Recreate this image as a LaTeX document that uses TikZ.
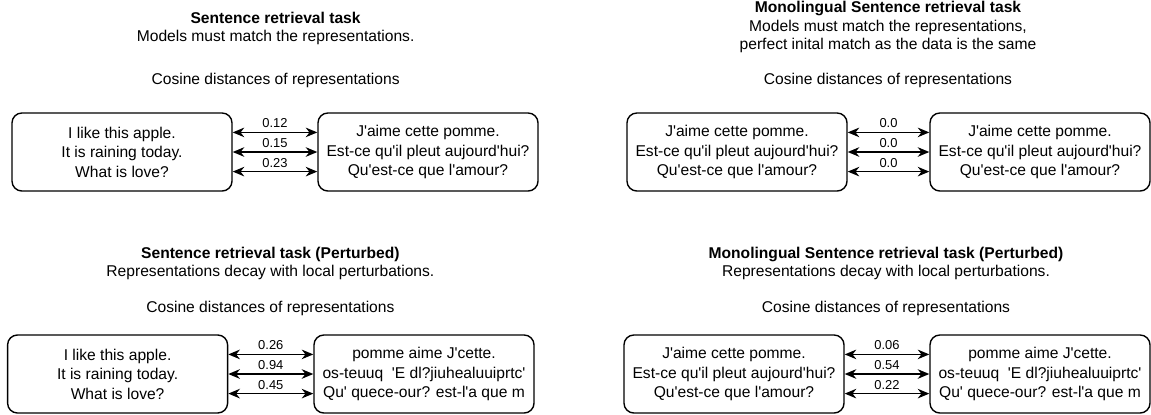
\documentclass[tikz,border=0pt]{standalone}
\usepackage{fontspec}
\setmainfont{Liberation Sans}[Ligatures=TeXOff]
\usetikzlibrary{arrows.meta}

\begin{document}
\begin{tikzpicture}[
  font=\fontsize{11.1}{13.9}\selectfont,
  sentbox/.style={
    draw=black,
    rounded corners=7pt,
    line width=1pt,
    align=center,
    minimum width=5.5cm,
    minimum height=1.95cm,
    inner sep=2pt
  },
  header/.style={align=center, font=\fontsize{11.1}{13}\selectfont, inner sep=1pt},
  caption/.style={inner sep=1pt},
  biarrow/.style={{Stealth[length=2.9mm,width=2.4mm]}-{Stealth[length=2.9mm,width=2.4mm]}, line width=1pt, draw=black},
  dist/.style={midway, above, inner sep=2.6pt, font=\fontsize{9.2}{11}\selectfont}
]
\useasboundingbox (0,0) rectangle (28.775,-10.35);

% Top left: sentence retrieval task.
\node[header]  (retrtitle) at (6.89,-0.72) {\textbf{Sentence retrieval task}\\Models must match the representations.};
\node[caption] (retrcos)   at (6.89,-2.0)  {Cosine distances of representations};
\node[sentbox] (retren)    at (3.05,-3.8)  {I like this apple.\\It is raining today.\\What is love?};
\node[sentbox] (retrfr)    at (10.7,-3.8)  {J'aime cette pomme.\\Est-ce qu'il pleut aujourd'hui?\\Qu'est-ce que l'amour?};

% Top right: monolingual sentence retrieval task.
\node[header]  (monotitle) at (22.2,-0.68) {\textbf{Monolingual Sentence retrieval task}\\Models must match the representations,\\perfect inital match as the data is the same};
\node[caption] (monocos)   at (22.2,-2.0)  {Cosine distances of representations};
\node[sentbox] (monosrc)   at (18.425,-3.8) {J'aime cette pomme.\\Est-ce qu'il pleut aujourd'hui?\\Qu'est-ce que l'amour?};
\node[sentbox] (monotgt)   at (26.0,-3.8)  {J'aime cette pomme.\\Est-ce qu'il pleut aujourd'hui?\\Qu'est-ce que l'amour?};

% Bottom left: perturbed sentence retrieval task.
\node[header]  (perttitle) at (6.76,-6.58) {\textbf{Sentence retrieval task (Perturbed)}\\Representations decay with local perturbations.};
\node[caption] (pertcos)   at (6.76,-7.71) {Cosine distances of representations};
\node[sentbox] (perten)    at (2.94,-9.35) {I like this apple.\\It is raining today.\\What is love?};
\node[sentbox] (pertfr)    at (10.6,-9.35) {pomme aime J'cette.\\os-teuuq\ \ 'E dl?jiuhealuuiprtc'\\Qu' quece-our? est-l'a que m};

% Bottom right: perturbed monolingual task.
\node[header]  (pmonotitle) at (22.15,-6.58) {\textbf{Monolingual Sentence retrieval task (Perturbed)}\\Representations decay with local perturbations.};
\node[caption] (pmonocos)   at (22.15,-7.71) {Cosine distances of representations};
\node[sentbox] (pmonosrc)   at (18.35,-9.35) {J'aime cette pomme.\\Est-ce qu'il pleut aujourd'hui?\\Qu'est-ce que l'amour?};
\node[sentbox] (pmonotgt)   at (26.0,-9.35)  {pomme aime J'cette.\\os-teuuq\ \ 'E dl?jiuhealuuiprtc'\\Qu' quece-our? est-l'a que m};

\draw[biarrow] ([yshift=0.49cm]retren.east) -- node[dist] {0.12} ([yshift=0.49cm]retrfr.west);
\draw[biarrow] (retren.east) -- node[dist] {0.15} (retrfr.west);
\draw[biarrow] ([yshift=-0.49cm]retren.east) -- node[dist] {0.23} ([yshift=-0.49cm]retrfr.west);

\draw[biarrow] ([yshift=0.49cm]monosrc.east) -- node[dist] {0.0} ([yshift=0.49cm]monotgt.west);
\draw[biarrow] (monosrc.east) -- node[dist] {0.0} (monotgt.west);
\draw[biarrow] ([yshift=-0.49cm]monosrc.east) -- node[dist] {0.0} ([yshift=-0.49cm]monotgt.west);

\draw[biarrow] ([yshift=0.49cm]perten.east) -- node[dist] {0.26} ([yshift=0.49cm]pertfr.west);
\draw[biarrow] (perten.east) -- node[dist] {0.94} (pertfr.west);
\draw[biarrow] ([yshift=-0.49cm]perten.east) -- node[dist] {0.45} ([yshift=-0.49cm]pertfr.west);

\draw[biarrow] ([yshift=0.49cm]pmonosrc.east) -- node[dist] {0.06} ([yshift=0.49cm]pmonotgt.west);
\draw[biarrow] (pmonosrc.east) -- node[dist] {0.54} (pmonotgt.west);
\draw[biarrow] ([yshift=-0.49cm]pmonosrc.east) -- node[dist] {0.22} ([yshift=-0.49cm]pmonotgt.west);

\end{tikzpicture}
\end{document}
